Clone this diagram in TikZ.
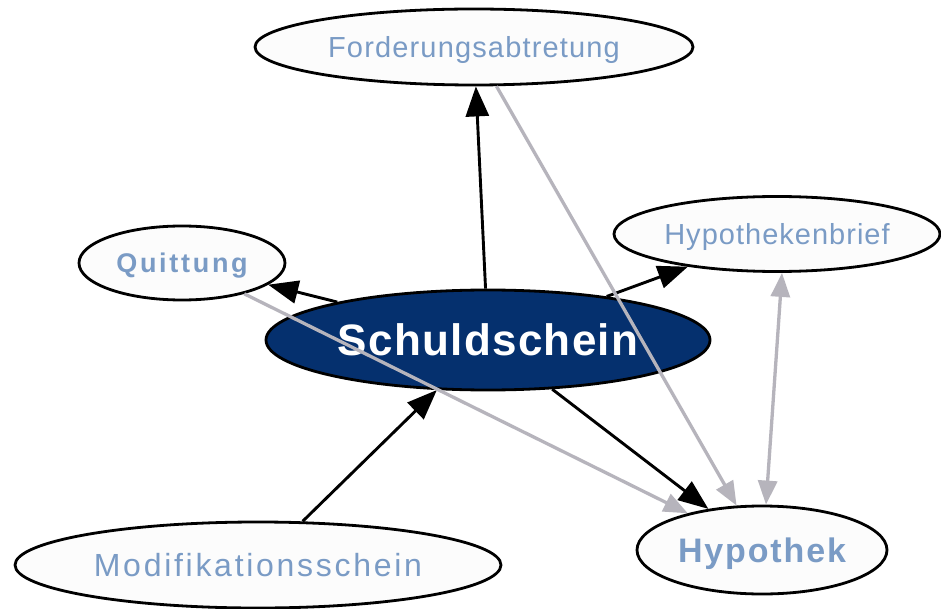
\documentclass[tikz,border=0pt]{standalone}
\usepackage{fontspec}
\setmainfont{Liberation Sans}
\usetikzlibrary{shapes.geometric,arrows.meta}
\definecolor{lbl}{RGB}{122,155,197}
\definecolor{navy}{RGB}{5,48,110}
\definecolor{edgegray}{RGB}{182,180,188}
\definecolor{nodefill}{RGB}{252,252,252}
\begin{document}
\begin{tikzpicture}[x=1pt,y=-1pt,
  ell/.style={ellipse, draw=black, line width=2.8pt, fill=nodefill, inner sep=0pt, text=lbl, text depth=0pt},
  arr/.style={line width=2.9pt, -{Triangle[length=30pt,width=23pt]}},
  garr/.style={draw=edgegray, line width=3.3pt, -{Triangle[length=24pt,width=19pt]}},
  gboth/.style={draw=edgegray, line width=3.3pt, {Triangle[length=24pt,width=19pt]}-{Triangle[length=24pt,width=19pt]}}]
\useasboundingbox (0,0) rectangle (941,609);
\fill[white] (0,0) rectangle (941,609);

\node[ell, minimum width=438pt, minimum height=76pt, text height=20.9pt,
      font=\fontsize{29}{30}\selectfont\addfontfeatures{LetterSpace=4}] (F) at (474,47)
  {Forderungsabtretung};
\node[ell, minimum width=206pt, minimum height=74pt, text height=19.4pt,
      font=\fontsize{27}{29}\selectfont\bfseries\addfontfeatures{LetterSpace=10}] (Q) at (182,263)
  {Quittung};
\node[ell, minimum width=326pt, minimum height=75pt, text height=20.9pt,
      font=\fontsize{29}{30}\selectfont\addfontfeatures{LetterSpace=3.5}] (HB) at (777,234)
  {Hypothekenbrief};
\node[ell, fill=navy, text=white, minimum width=444pt, minimum height=100pt, text height=31.7pt,
      font=\fontsize{44}{46}\selectfont\bfseries\addfontfeatures{LetterSpace=3}] (S) at (488,340)
  {Schuldschein};
\node[ell, minimum width=486pt, minimum height=86pt, text height=23pt,
      font=\fontsize{32}{34}\selectfont\addfontfeatures{LetterSpace=8.5}] (M) at (258,565)
  {Modifikationsschein};
\node[ell, minimum width=250pt, minimum height=88pt, text height=24.5pt,
      font=\fontsize{34}{36}\selectfont\bfseries\addfontfeatures{LetterSpace=5.5}] (H) at (762,550)
  {Hypothek};

\draw[arr] (S) -- (F);
\draw[arr] (S) -- (Q);
\draw[arr] (S) -- (HB);
\draw[arr] (S) -- (H);
\draw[arr] (M) -- (S);

\draw[garr] (F) -- (H);
\draw[garr] (Q) -- (H);
\draw[gboth] ([xshift=5pt]HB.south) -- ([xshift=4pt]H.north);
\end{tikzpicture}
\end{document}
